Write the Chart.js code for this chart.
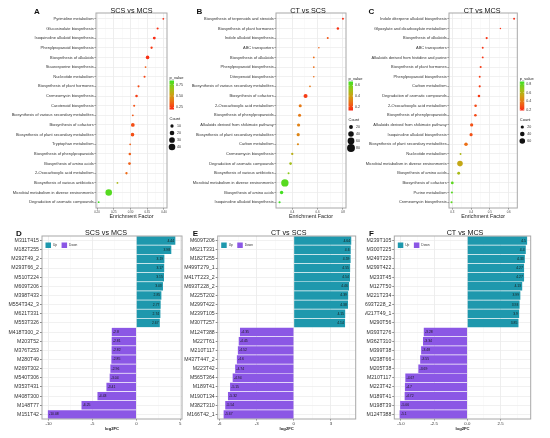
<!DOCTYPE html>
<html>
<head>
<meta charset="utf-8">
<script src="https://cdn.jsdelivr.net/npm/chart.js@4.4.0/dist/chart.umd.min.js"></script>
<style>
  html, body { margin: 0; padding: 0; background: #fff; }
  #wrap { position: relative; width: 550px; height: 438px; overflow: hidden; }
  canvas { position: absolute; }
</style>
</head>
<body>
<div id="wrap">
  <canvas id="cA" width="190" height="222" style="left:0;top:0"></canvas>
  <canvas id="cB" width="185" height="222" style="left:180px;top:0"></canvas>
  <canvas id="cC" width="185" height="222" style="left:365px;top:0"></canvas>
  <canvas id="cD" width="185" height="218" style="left:0;top:220px"></canvas>
  <canvas id="cE" width="185" height="218" style="left:180px;top:220px"></canvas>
  <canvas id="cF" width="185" height="218" style="left:365px;top:220px"></canvas>
</div>
<script>
// ---- KEGG enrichment (top row) ----
const catsA = ["Pyrimidine metabolism", "Glucosinolate biosynthesis", "Isoquinoline alkaloid biosynthesis",
  "Phenylpropanoid biosynthesis", "Biosynthesis of alkaloids", "Staurosporine biosynthesis",
  "Nucleotide metabolism", "Biosynthesis of plant hormones", "Cremeomycin biosynthesis",
  "Carotenoid biosynthesis", "Biosynthesis of various secondary metabolites", "Biosynthesis of cofactors",
  "Biosynthesis of plant secondary metabolites", "Tryptophan metabolism", "Biosynthesis of phenylpropanoids",
  "Biosynthesis of amino acids", "2-Oxocarboxylic acid metabolism", "Biosynthesis of various antibiotics",
  "Microbial metabolism in diverse environments", "Degradation of aromatic compounds"];
const efA = [0.398, 0.381, 0.371, 0.363, 0.351, 0.345, 0.342, 0.324, 0.318, 0.311,
  0.307, 0.307, 0.306, 0.299, 0.298, 0.297, 0.288, 0.261, 0.235, 0.205];
const pA = [0.21, 0.22, 0.21, 0.24, 0.22, 0.33, 0.27, 0.28, 0.25, 0.3,
  0.31, 0.29, 0.29, 0.33, 0.33, 0.33, 0.36, 0.62, 0.8, 0.84];
const nA = [3, 4, 8, 5, 12, 3, 4, 4, 6, 4, 3, 13, 12, 3, 6, 7, 5, 3, 40, 3];

const catsB = ["Biosynthesis of terpenoids and steroids", "Biosynthesis of plant hormones",
  "Indole alkaloid biosynthesis", "ABC transporters", "Biosynthesis of alkaloids",
  "Phenylpropanoid biosynthesis", "Diterpenoid biosynthesis", "Biosynthesis of various secondary metabolites",
  "Biosynthesis of cofactors", "2-Oxocarboxylic acid metabolism", "Biosynthesis of phenylpropanoids",
  "Alkaloids derived from shikimate pathway", "Biosynthesis of plant secondary metabolites",
  "Carbon metabolism", "Cremeomycin biosynthesis", "Degradation of aromatic compounds",
  "Biosynthesis of various antibiotics", "Microbial metabolism in diverse environments",
  "Biosynthesis of amino acids", "Isoquinoline alkaloid biosynthesis"];
const efB = [0.80, 0.76, 0.68, 0.61, 0.57, 0.57, 0.57, 0.54, 0.505, 0.463,
  0.458, 0.45, 0.447, 0.445, 0.40, 0.387, 0.371, 0.342, 0.316, 0.30];
const pB = [0.14, 0.15, 0.22, 0.25, 0.27, 0.27, 0.27, 0.3, 0.17, 0.3,
  0.3, 0.32, 0.33, 0.34, 0.45, 0.5, 0.55, 0.63, 0.66, 0.67];
const nB = [5, 8, 5, 3, 4, 4, 3, 4, 21, 12, 12, 13, 13, 6, 7, 9, 5, 70, 15, 6];

const catsC = ["Indole diterpene alkaloid biosynthesis", "Glyoxylate and dicarboxylate metabolism",
  "Biosynthesis of alkaloids", "ABC transporters", "Alkaloids derived from histidine and purine",
  "Biosynthesis of plant hormones", "Phenylpropanoid biosynthesis", "Carbon metabolism",
  "Degradation of aromatic compounds", "2-Oxocarboxylic acid metabolism", "Biosynthesis of phenylpropanoids",
  "Alkaloids derived from shikimate pathway", "Isoquinoline alkaloid biosynthesis",
  "Biosynthesis of plant secondary metabolites", "Nucleotide metabolism",
  "Microbial metabolism in diverse environments", "Biosynthesis of amino acids",
  "Biosynthesis of cofactors", "Purine metabolism", "Cremeomycin biosynthesis"];
const efC = [0.629, 0.556, 0.483, 0.462, 0.462, 0.451, 0.446, 0.446, 0.442, 0.424,
  0.423, 0.403, 0.40, 0.373, 0.344, 0.341, 0.334, 0.30, 0.298, 0.296];
const pC = [0.19, 0.2, 0.21, 0.21, 0.21, 0.23, 0.23, 0.23, 0.22, 0.26,
  0.26, 0.28, 0.28, 0.36, 0.62, 0.55, 0.63, 0.8, 0.81, 0.8];
const nC = [7, 4, 9, 7, 7, 8, 7, 9, 13, 13, 13, 20, 19, 24, 7, 60, 16, 15, 8, 8];

// ---- differential metabolites (bottom row) ----
const genesD = ["M311T415", "M182T255", "M292T49_2", "M293T66_2", "M510T224", "M609T206", "M398T433",
  "M554T342_3", "M621T331", "M553T326", "M418T300_2", "M203T52", "M376T253", "M280T49", "M269T302",
  "M540T306", "M353T431", "M408T300", "M148T77", "M151T42"];
const fcD = [4.44, 3.98, 3.19, 3.17, 3.15, 3.03, 2.85, 2.77, 2.74, 2.67,
  -2.8, -2.81, -2.82, -2.85, -2.96, -3.04, -3.41, -4.43, -6.25, -10.08];

const genesE = ["M609T206", "M621T331", "M182T255", "M499T279_1", "M417T223_2", "M693T228_2", "M225T202",
  "M299T422", "M239T105", "M307T257", "M124T388", "M227T61", "M210T117", "M437T447_2", "M223T42",
  "M565T364", "M189T41", "M190T134", "M382T310", "M166T42_1"];
const fcE = [4.64, 4.6, 4.59, 4.55, 4.54, 4.46, 4.39, 4.38, 4.15, 4.14,
  -4.35, -4.45, -4.52, -4.6, -4.74, -4.94, -5.15, -5.32, -5.54, -5.67];

const genesF = ["M239T105", "M300T225", "M249T229", "M299T422", "M233T45", "M127T50", "M221T234",
  "M693T228_2", "M217T49_1", "M290T56", "M393T276", "M362T310", "M399T38", "M238T66", "M205T38",
  "M210T117", "M223T42", "M189T41", "M198T39", "M124T388"];
const fcF = [4.5, 4.4, 4.33, 4.27, 4.27, 4.13, 3.99, 3.93, 3.9, 3.85,
  -3.28, -3.34, -3.48, -3.55, -3.69, -4.67, -4.7, -4.72, -5.06, -5.1];

const UP = "#1e98ad";
const DOWN = "#8b57e5";
const FONT = '"Liberation Sans", Arial, sans-serif';
Chart.defaults.font.family = FONT;
Chart.defaults.color = "#333";

// red (low p) -> green (high p)
function pColor(p, lo, hi) {
  const t = Math.max(0, Math.min(1, (p - lo) / (hi - lo)));
  const stops = [[250, 40, 20], [238, 108, 22], [205, 160, 20], [150, 200, 25], [60, 225, 35]];
  const s = t * (stops.length - 1);
  const i = Math.min(Math.floor(s), stops.length - 2);
  const f = s - i;
  const c = stops[i].map((v, k) => Math.round(v + (stops[i + 1][k] - v) * f));
  return `rgb(${c[0]},${c[1]},${c[2]})`;
}

const isMajor = (v, step) => Math.abs(v / step - Math.round(v / step)) < 1e-6;
function halfTicks(step) {
  return s => {
    const h = step / 2, out = [];
    for (let v = Math.ceil(s.min / h - 1e-9) * h; v <= s.max + 1e-9; v += h) out.push({ value: +v.toFixed(6) });
    s.ticks = out;
  };
}
function xGrid(step) {
  return {
    color: c => c.tick && isMajor(c.tick.value, step) ? "#e6e6e6" : "#f3f3f3",
    lineWidth: c => c.tick && isMajor(c.tick.value, step) ? 0.7 : 0.4,
    tickColor: c => c.tick && isMajor(c.tick.value, step) ? "#555" : "rgba(0,0,0,0)",
    tickLength: 1.5
  };
}

function dotLegend(ctx, a, d) {
  const x = a.right + 2.5, T = d.top;
  ctx.fillStyle = "#222";
  ctx.textAlign = "left";
  ctx.textBaseline = "middle";
  ctx.font = `4px ${FONT}`;
  ctx.fillText("p_value", x, T);
  const y0 = T + 2.5, y1 = T + 31.5;
  const g = ctx.createLinearGradient(0, y0, 0, y1);
  for (let i = 0; i <= 10; i++) g.addColorStop(i / 10, pColor(d.hi - (d.hi - d.lo) * i / 10, d.lo, d.hi));
  ctx.fillStyle = g;
  ctx.fillRect(x, y0, 4.5, y1 - y0);
  ctx.font = `3.6px ${FONT}`;
  d.pTicks.forEach(v => {
    const y = y1 - (v - d.lo) / (d.hi - d.lo) * (y1 - y0);
    ctx.fillStyle = "#fff";
    ctx.fillRect(x, y - 0.2, 1, 0.4);
    ctx.fillRect(x + 3.5, y - 0.2, 1, 0.4);
    ctx.fillStyle = "#333";
    ctx.fillText(v.toFixed(d.pDec), x + 6.5, y);
  });
  ctx.fillStyle = "#222";
  ctx.font = `4px ${FONT}`;
  ctx.fillText("Count", x, T + 41);
  ctx.font = `3.6px ${FONT}`;
  d.nTicks.forEach((n, i) => {
    const y = T + 48 + i * 7;
    ctx.beginPath();
    ctx.arc(x + 2.5, y, d.k * Math.sqrt(n), 0, Math.PI * 2);
    ctx.fillStyle = "#111";
    ctx.fill();
    ctx.fillStyle = "#333";
    ctx.fillText(String(n), x + 7.5, y);
  });
}

function barLegend(chart, ctx, a) {
  let x = a.left + 3.5;
  const y = a.top + 6.5, s = 5.5;
  ctx.textAlign = "left";
  ctx.textBaseline = "middle";
  ctx.font = `3.2px ${FONT}`;
  chart.data.datasets.forEach(ds => {
    ctx.fillStyle = ds.backgroundColor;
    ctx.fillRect(x, y, s, s);
    ctx.fillStyle = "#333";
    ctx.fillText(ds.label, x + s + 2, y + s / 2);
    x += s + 2 + ctx.measureText(ds.label).width + 4.5;
  });
}

const panelPlugin = {
  id: "panel",
  afterDatasetsDraw(chart, args, o) {
    if (!o.bar) return;
    const ctx = chart.ctx;
    ctx.save();
    ctx.font = `3.4px ${FONT}`;
    ctx.fillStyle = "#1a1a1a";
    ctx.textBaseline = "middle";
    chart.data.datasets.forEach((ds, di) => {
      chart.getDatasetMeta(di).data.forEach((bar, i) => {
        const v = ds.data[i];
        if (v == null) return;
        ctx.textAlign = v > 0 ? "right" : "left";
        ctx.fillText(String(v), bar.x + (v > 0 ? -1.2 : 1.2), bar.y);
      });
    });
    ctx.restore();
  },
  afterDraw(chart, args, o) {
    const { ctx, chartArea: a } = chart;
    ctx.save();
    ctx.strokeStyle = "#a8a8a8";
    ctx.lineWidth = 1;
    ctx.strokeRect(a.left, a.top, a.right - a.left, a.bottom - a.top);
    ctx.fillStyle = "#111";
    ctx.textBaseline = "alphabetic";
    ctx.textAlign = "center";
    ctx.font = `7.2px ${FONT}`;
    ctx.fillText(o.title, (a.left + a.right) / 2 + (o.titleDx || 0), o.titleY);
    ctx.textAlign = "left";
    ctx.font = `bold 8px ${FONT}`;
    ctx.fillText(o.letter, o.letterX, o.letterY);
    if (o.dot) dotLegend(ctx, a, o.dot);
    if (o.bar) barLegend(chart, ctx, a);
    ctx.restore();
  }
};

function dotChart(id, cats, ef, pv, cnt, o) {
  return new Chart(document.getElementById(id), {
    type: "scatter",
    data: {
      datasets: [{
        data: cats.map((c, i) => ({ x: ef[i], y: i })),
        pointRadius: c => o.dot.k * Math.sqrt(cnt[c.dataIndex]),
        pointHoverRadius: c => o.dot.k * Math.sqrt(cnt[c.dataIndex]),
        pointBackgroundColor: c => pColor(pv[c.dataIndex], o.dot.lo, o.dot.hi),
        pointBorderWidth: 0
      }]
    },
    options: {
      responsive: false,
      animation: false,
      layout: { padding: { top: 13, right: o.padR, left: 0, bottom: 0 } },
      plugins: { legend: { display: false }, tooltip: { enabled: false }, panel: o },
      scales: {
        x: {
          type: "linear", min: o.xmin, max: o.xmax,
          afterBuildTicks: halfTicks(o.step),
          afterFit: s => { s.height = 14; },
          border: { display: false },
          grid: xGrid(o.step),
          ticks: {
            autoSkip: false, maxRotation: 0, padding: 0.5, color: "#444",
            font: { size: 2.9 },
            callback: v => isMajor(v, o.step) ? v.toFixed(o.dec) : ""
          },
          title: { display: true, text: "Enrichment Factor", color: "#222", font: { size: 5.4 }, padding: { top: 0, bottom: 2 } }
        },
        y: {
          type: "linear", reverse: true, min: -0.6, max: cats.length - 0.4,
          afterBuildTicks: s => { s.ticks = cats.map((c, i) => ({ value: i })); },
          afterFit: s => { s.width = o.yW; },
          border: { display: false },
          grid: { color: "#ebebeb", lineWidth: 0.7, tickColor: "#555", tickLength: 1.5 },
          ticks: { autoSkip: false, padding: 0.8, color: "#333", font: { size: 4 }, callback: v => cats[v] }
        }
      }
    },
    plugins: [panelPlugin]
  });
}

function barChart(id, genes, fc, o) {
  return new Chart(document.getElementById(id), {
    type: "bar",
    data: {
      labels: genes,
      datasets: [
        { label: "Up", data: fc.map(v => v > 0 ? v : null), backgroundColor: UP },
        { label: "Down", data: fc.map(v => v < 0 ? v : null), backgroundColor: DOWN }
      ]
    },
    options: {
      indexAxis: "y",
      responsive: false,
      animation: false,
      datasets: { bar: { grouped: false, categoryPercentage: 1, barPercentage: 0.92, borderWidth: 0 } },
      layout: { padding: { top: 16, right: o.padR, left: 0, bottom: 0 } },
      plugins: { legend: { display: false }, tooltip: { enabled: false }, panel: o },
      scales: {
        x: {
          type: "linear", min: o.xmin, max: o.xmax,
          afterBuildTicks: halfTicks(o.step),
          afterFit: s => { s.height = 19; },
          border: { display: false },
          grid: xGrid(o.step),
          ticks: {
            autoSkip: false, maxRotation: 0, padding: 0.5, color: "#333",
            font: { size: 4.3 },
            callback: v => isMajor(v, o.step) ? v.toFixed(o.dec) : ""
          },
          title: { display: true, text: "log2FC", color: "#222", font: { size: 4.2, weight: "bold" }, padding: { top: 0, bottom: 6.5 } }
        },
        y: {
          afterFit: s => { s.width = o.yW; },
          border: { display: false },
          grid: { offset: false, color: "#ebebeb", lineWidth: 0.7, tickColor: "#555", tickLength: 2 },
          ticks: { autoSkip: false, padding: 1, color: "#333", font: { size: 5.2 } }
        }
      }
    },
    plugins: [panelPlugin]
  });
}

dotChart("cA", catsA, efA, pA, nA, {
  letter: "A", letterX: 34, letterY: 14, title: "SCS vs MCS", titleY: 12.5, titleDx: 0,
  xmin: 0.197, xmax: 0.409, step: 0.05, dec: 2, yW: 96, padR: 23,
  dot: { lo: 0.2, hi: 0.845, k: 0.52, pTicks: [0.25, 0.5, 0.75], pDec: 2, nTicks: [10, 20, 30, 40], top: 78 }
});
dotChart("cB", catsB, efB, pB, nB, {
  letter: "B", letterX: 16.5, letterY: 14, title: "CT vs SCS", titleY: 12.5, titleDx: -3,
  xmin: 0.272, xmax: 0.824, step: 0.2, dec: 1, yW: 96, padR: 19,
  dot: { lo: 0.13, hi: 0.67, k: 0.44, pTicks: [0.2, 0.4, 0.6], pDec: 1, nTicks: [20, 40, 60, 80], top: 79 }
});
dotChart("cC", catsC, efC, pC, nC, {
  letter: "C", letterX: 3.5, letterY: 14, title: "CT vs MCS", titleY: 12.5, titleDx: -1,
  xmin: 0.2825, xmax: 0.646, step: 0.1, dec: 1, yW: 84, padR: 32.7,
  dot: { lo: 0.18, hi: 0.86, k: 0.36, pTicks: [0.2, 0.4, 0.6, 0.8], pDec: 1, nTicks: [20, 40, 60], top: 79 }
});

barChart("cD", genesD, fcD, {
  letter: "D", letterX: 16, letterY: 15.7, title: "SCS vs MCS", titleY: 15, titleDx: -6, bar: true,
  xmin: -10.75, xmax: 5.2, step: 5, dec: 0, yW: 42, padR: 3
});
barChart("cE", genesE, fcE, {
  letter: "E", letterX: 12.7, letterY: 15.7, title: "CT vs SCS", titleY: 15, titleDx: 2, bar: true,
  xmin: -6.15, xmax: 5.0, step: 3, dec: 0, yW: 37.7, padR: 9.3
});
barChart("cF", genesF, fcF, {
  letter: "F", letterX: 4, letterY: 15.7, title: "CT vs MCS", titleY: 15, titleDx: 2.5, bar: true,
  xmin: -5.5, xmax: 4.77, step: 2.5, dec: 1, yW: 29.3, padR: 19.3
});
</script>
</body>
</html>
